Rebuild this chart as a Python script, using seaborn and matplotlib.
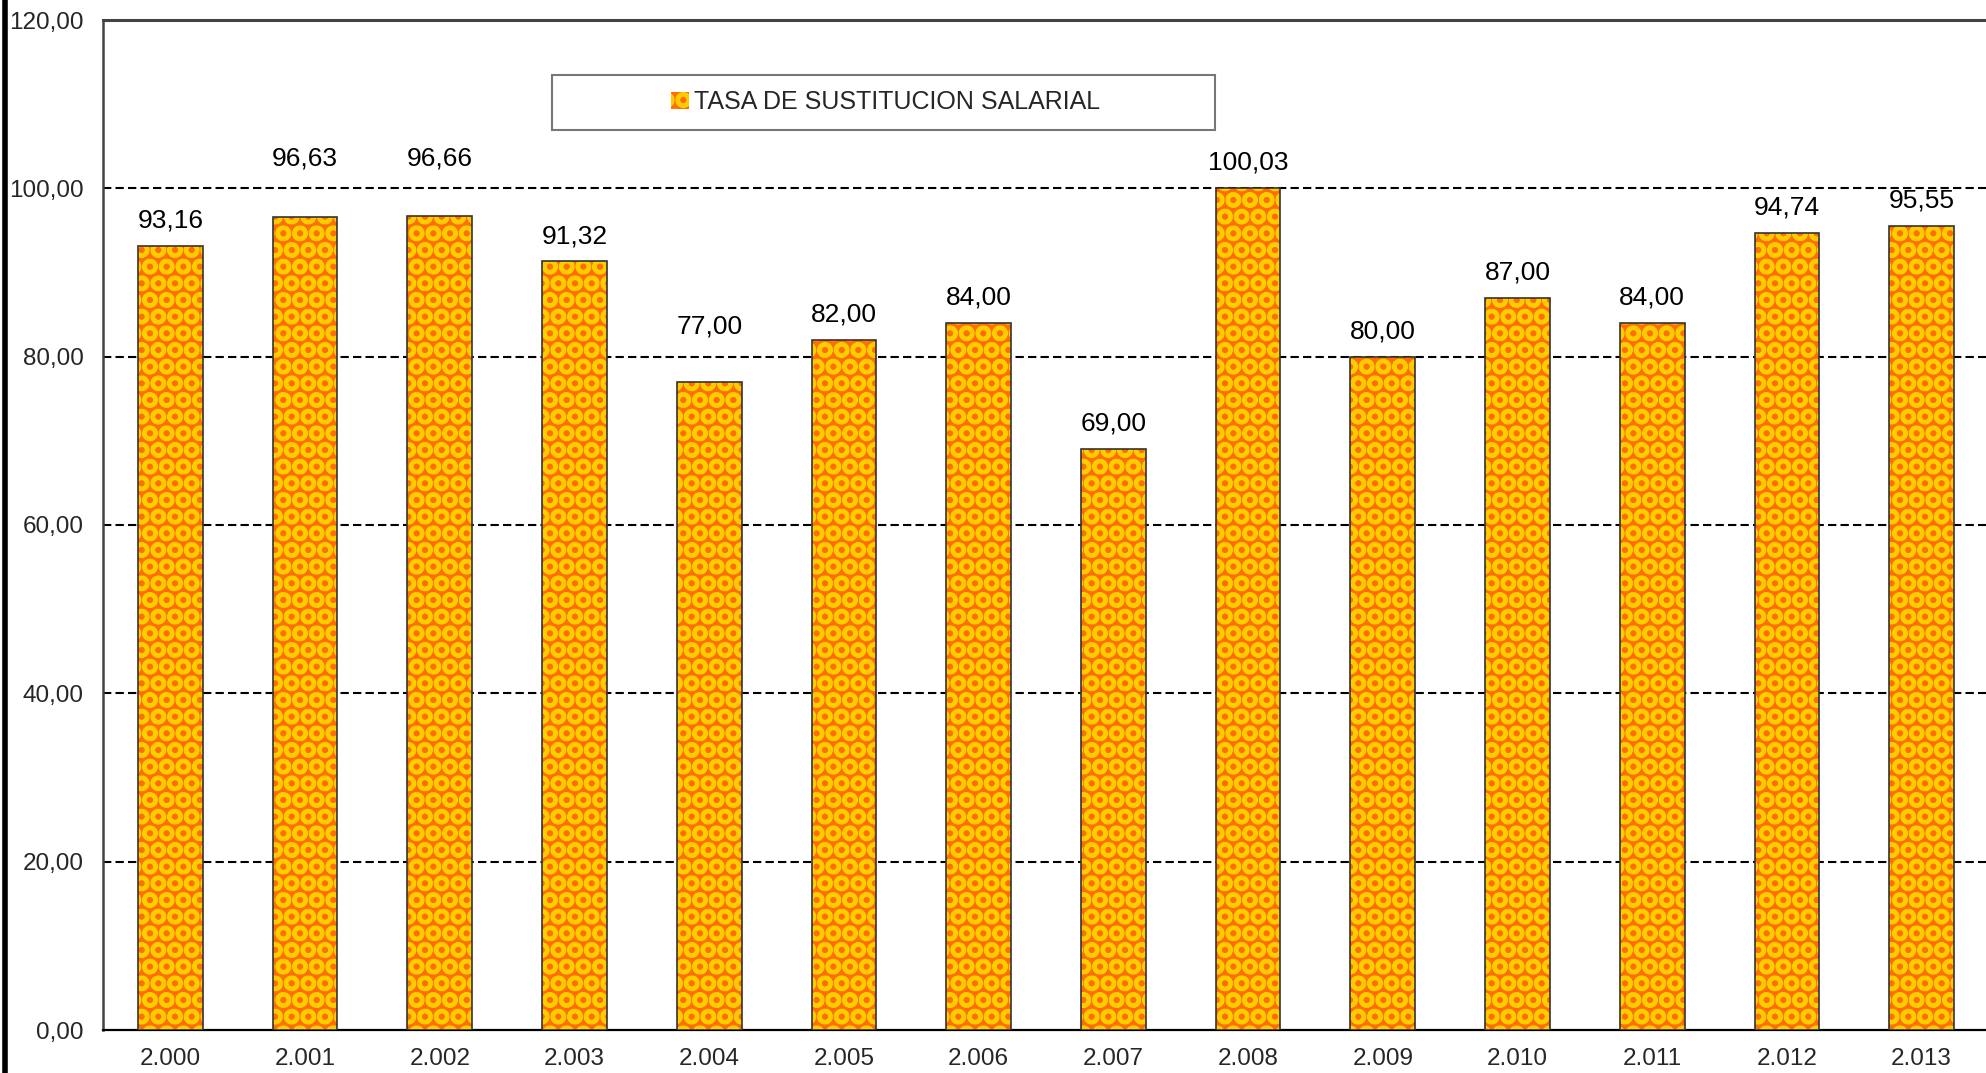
import matplotlib
matplotlib.use('Agg')
import matplotlib.pyplot as plt
import matplotlib.patches as mpatches
from matplotlib.lines import Line2D
import seaborn as sns
import pandas as pd

years = ["2.000", "2.001", "2.002", "2.003", "2.004", "2.005", "2.006",
         "2.007", "2.008", "2.009", "2.010", "2.011", "2.012", "2.013"]
tasa = [93.16, 96.63, 96.66, 91.32, 77.00, 82.00, 84.00,
        69.00, 100.03, 80.00, 87.00, 84.00, 94.74, 95.55]
y_ticks = [0, 20, 40, 60, 80, 100, 120]
serie = "TASA DE SUSTITUCION SALARIAL"

ORANGE = "#FF6E00"
YELLOW = "#FFCC00"

sns.set_style("white")
plt.rcParams['font.family'] = ['Liberation Sans', 'DejaVu Sans']
plt.rcParams['hatch.linewidth'] = 3.0

df = pd.DataFrame({"anio": years, "tasa": tasa})

fig = plt.figure(figsize=(19.86, 10.73), dpi=100)
ax = fig.add_axes([103 / 1986, 43 / 1073, 1886 / 1986, 1010 / 1073])

sns.barplot(data=df, x="anio", y="tasa", color=ORANGE, width=0.48,
            saturation=1, ax=ax, zorder=3)

# relleno con patron + contorno oscuro
for p in ax.patches:
    p.set_facecolor(ORANGE)
    p.set_edgecolor(YELLOW)
    p.set_hatch("O")
    p.set_linewidth(0)
    ax.add_patch(mpatches.Rectangle(p.get_xy(), p.get_width(), p.get_height(),
                                    fill=False, edgecolor="#333333",
                                    linewidth=1.2, zorder=4))

# etiquetas: si chocan con una linea de cuadricula, se suben por encima
grid_vals = y_ticks[1:-1]
for i, v in enumerate(tasa):
    yc = v + 3.0
    for g in grid_vals:
        if abs(yc - g) < 1.3:
            yc = g + 3.6
    ax.text(i, yc, f"{v:.2f}".replace(".", ","), ha="center", va="center",
            fontsize=19, color="black", zorder=6)

ax.set_xlim(-0.5, 13.5)
ax.set_ylim(0, 120)
ax.set_yticks(y_ticks)
ax.set_yticklabels([f"{t:.2f}".replace(".", ",") for t in y_ticks], fontsize=17.5)
ax.tick_params(axis="y", length=0, pad=14)
ax.tick_params(axis="x", length=0, pad=13, labelsize=17.5)
ax.set_xlabel("")
ax.set_ylabel("")

for g in grid_vals:
    ax.axhline(g, color="black", linestyle=(0, (4, 2)), linewidth=1.5, zorder=1)

ax.spines["top"].set_color("#444444")
ax.spines["top"].set_linewidth(2.2)
ax.spines["left"].set_color("#444444")
ax.spines["left"].set_linewidth(1.8)
ax.spines["bottom"].set_color("black")
ax.spines["bottom"].set_linewidth(1.6)
ax.spines["right"].set_visible(False)

# leyenda con caja
ax.add_patch(mpatches.Rectangle((449 / 1886, 0.8911), 663 / 1886, 0.0545,
                                transform=ax.transAxes, facecolor="white",
                                edgecolor="#777777", linewidth=1.5, zorder=5))
handle = mpatches.Patch(facecolor=ORANGE, edgecolor=YELLOW, hatch="O", linewidth=0)
ax.legend([handle], [serie], loc="center", bbox_to_anchor=(0.415, 0.9185),
          frameon=False, fontsize=18, handlelength=0.7, handleheight=0.7,
          handletextpad=0.2).set_zorder(6)

fig.add_artist(Line2D([5 / 1986, 5 / 1986], [0, 1], transform=fig.transFigure,
                      color="black", linewidth=4))

fig.savefig("out.png", dpi=100)
